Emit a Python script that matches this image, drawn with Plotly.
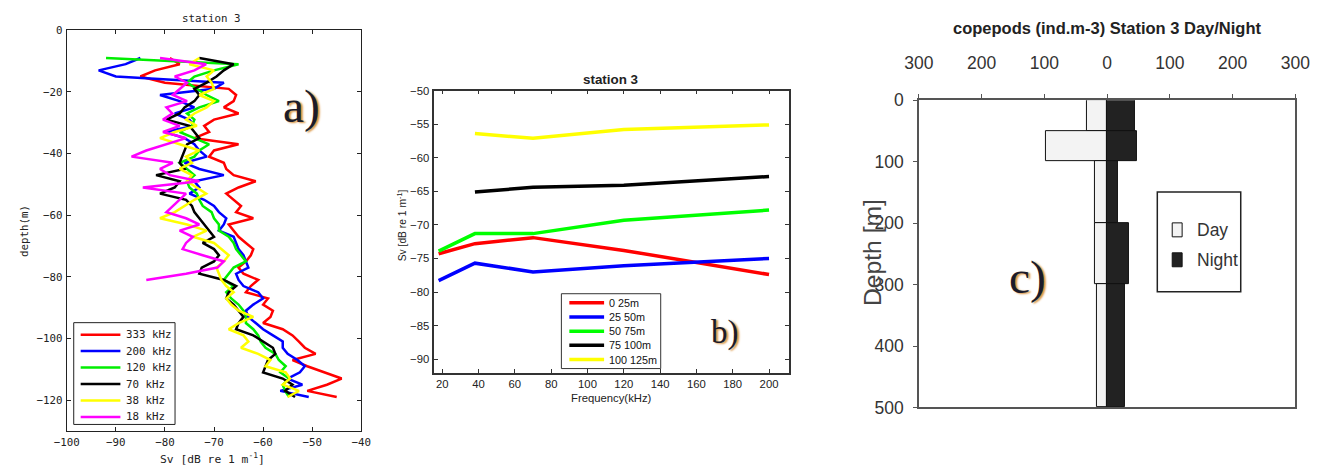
import plotly.graph_objects as go

# ---------------- a) Sv depth profiles, station 3 ----------------
depth = [-9, -11, -13, -15, -17, -19, -21, -23, -25, -27, -29, -31, -33, -35,
         -37, -39, -41, -43, -45, -47, -49, -51, -53, -55, -57, -59, -61, -63,
         -65, -67, -69, -71, -73, -75, -77, -79, -81, -83, -85, -87, -89, -91,
         -93, -95, -97, -99, -101, -103, -105, -107, -109, -111, -113, -115,
         -117, -119]

sv_333 = [-79, -77, -82, -85, -80, -67, -65.5, -66, -68, -65, -70, -72, -71, -74,
          -65, -70, -71, -68, -67.5, -66, -61.5, -65, -67.5, -66, -64.5, -65.5,
          -62, -67, -66, -65, -63.5, -62, -62.5, -63.5, -65, -64, -61, -62.5,
          -63.5, -59, -60, -58, -58.5, -60, -56, -54, -52.7, -51.5, -49.3, -54,
          -51, -47.3, -44, -47, -51, -45]
sv_200 = [-85, -88, -93.5, -90, -68, -70, -81, -77, -74, -78, -75, -74, -80, -76,
          -74, -73, -71.5, -76, -73, -68, -74, -73, -75, -72, -70, -69, -67.5,
          -68, -69, -66, -65.5, -65, -64, -63.5, -63, -65.5, -65, -64, -61, -60,
          -62, -63.5, -63, -61.5, -60, -58, -56, -56, -55, -53, -51.5, -52.5,
          -55, -52, -56.5, -50.7]
sv_120 = [-92, -65, -70, -74, -75.5, -73.5, -71.5, -69, -73, -75.5, -74, -74.5,
          -77, -74, -71, -73, -74, -77, -75.5, -74, -75.5, -75, -73.5, -73,
          -72.3, -70.5, -70, -69, -69, -67, -66, -65.5, -64.5, -63.5, -66, -67,
          -68, -66, -67.5, -66.5, -65, -64, -63.5, -63.5, -62, -61, -60.5,
          -59.5, -57.5, -56.8, -55.4, -56.5, -54.7, -56, -55.5, -54.7]
sv_70 = [-73, -66, -68, -69.5, -71.5, -74, -73, -74, -76, -77, -79.7, -75, -74,
         -73, -75.5, -76, -76.5, -77, -76, -81.8, -77, -78, -81, -75.7, -74.5,
         -74, -73, -72, -71, -70, -72.3, -70, -69, -70, -72.5, -73, -68, -65.5,
         -67, -67.5, -66, -65, -64, -65, -65.5, -62, -60, -58, -57.5, -59,
         -59.5, -60, -56, -54, -55.5, -53.5]
sv_38 = [-73, -75, -70, -71.5, -70.5, -70, -73, -70, -71.5, -74, -75.7, -73.5,
         -78, -81, -77, -73, -75.7, -74.5, -77, -74.5, -75.5, -73.5, -71.6, -74,
         -76, -78, -81, -75.5, -71.5, -74.3, -70, -68.5, -67, -68, -69.5, -69,
         -68.5, -67.5, -66, -67.5, -66.5, -65, -62, -65, -67, -64, -63, -64.5,
         -61, -58.5, -59.5, -55.4, -54.5, -56, -52.7, -55]
depth_18 = depth[:37]
sv_18 = [-81, -71.6, -74, -78, -75.5, -77, -78.4, -75.5, -79.7, -78.5, -80.4,
         -77, -80.4, -75.7, -79.7, -83.8, -86.8, -78.4, -81, -79, -73, -84.5,
         -75.7, -77, -78.4, -79.7, -75.7, -73, -77, -74.3, -75.7, -76.4, -72.3,
         -68, -69.3, -75.7, -83.8]

profile_names = ["333 kHz", "200 kHz", "120 kHz", "70 kHz", "38 kHz", "18 kHz"]
profile_colors = ["#ff0000", "#0000ff", "#00ee00", "#000000", "#ffff00", "#ff00ff"]

# ---------------- b) mean Sv per layer vs frequency ----------------
freq = [18, 38, 70, 120, 200]
layer_names = ["0 25m", "25 50m", "50 75m", "75 100m", "100 125m"]
layer_sv = [
    [-74.3, -72.8, -71.9, -73.8, -77.4],
    [-78.3, -75.7, -77.0, -76.1, -75.0],
    [-73.9, -71.3, -71.3, -69.3, -67.8],
    [None, -65.1, -64.4, -64.1, -62.8],
    [None, -56.4, -57.1, -55.8, -55.1],
]
layer_colors = ["#ff0000", "#0000ff", "#00ff00", "#000000", "#ffff00"]

# ---------------- c) copepod abundance day/night ----------------
layer_mid = [25, 75, 150, 250, 400]
layer_thick = [50, 50, 100, 100, 200]
day_abund = [33, 98, 20, 19, 16]
night_abund = [43.5, 47.5, 17, 34.5, 29]
period_names = ["Day", "Night"]
period_colors = ["#f3f3f3", "#222222"]

MONO = "DejaVu Sans Mono"
SANS = "Liberation Sans"
SERIF = "Liberation Serif"

# Layout positions below are written in window pixels; they are converted
# to paper fractions of the figure, which sits inside the 8px body margin.
OFF = 8
SX, SY = 0.984, 0.96
W, H = 1322, 476
FS = 1.03  # font scale matching the window-to-page ratio


def fx(p):
    return (p / SX - OFF) / W


def fy(p):
    return 1 - (p / SY - OFF) / H


def fnt(family, size, color="#222"):
    return dict(family=family, size=round(size * FS, 1), color=color)


fig = go.Figure()

profiles = [sv_333, sv_200, sv_120, sv_70, sv_38, sv_18]
for name, col, vals in zip(profile_names, profile_colors, profiles):
    d = depth_18 if name == "18 kHz" else depth
    fig.add_trace(go.Scatter(x=vals, y=d, mode="lines", name=name,
                             line=dict(color=col, width=2.5),
                             xaxis="x", yaxis="y"))

for name, col, vals in zip(layer_names, layer_colors, layer_sv):
    fig.add_trace(go.Scatter(x=freq, y=vals, mode="lines", name=name,
                             line=dict(color=col, width=3.5),
                             xaxis="x2", yaxis="y2"))

for name, col, vals, sign in zip(period_names, period_colors,
                                 [day_abund, night_abund], [-1, 1]):
    fig.add_trace(go.Bar(y=layer_mid, x=[sign * v for v in vals], width=layer_thick,
                         base=0, orientation="h", name=name,
                         marker=dict(color=col, line=dict(color="#111", width=1)),
                         xaxis="x3", yaxis="y3"))

axis_a = dict(showline=True, linecolor="#222", linewidth=1, mirror="ticks",
              ticks="inside", ticklen=4, tickcolor="#222", showgrid=False,
              zeroline=False, tickfont=fnt(MONO, 10.5))
axis_b = dict(showline=True, linecolor="#333", linewidth=1.5, mirror="ticks",
              ticks="inside", ticklen=4, tickcolor="#333", showgrid=False,
              zeroline=False, tickfont=fnt(SANS, 11))
axis_c = dict(showline=True, linecolor="#555", linewidth=1.5, mirror=True,
              ticks="outside", ticklen=4, tickcolor="#555", showgrid=False,
              zeroline=False, tickfont=fnt(SANS, 17, "#333"))

fig.update_layout(
    width=W, height=H, margin=dict(l=0, r=0, t=0, b=0),
    paper_bgcolor="white", plot_bgcolor="white",
    barmode="overlay", bargap=0, showlegend=False,
    xaxis=dict(axis_a, domain=[fx(60), fx(356.5)], range=[-100, -40],
               tickvals=[-100, -90, -80, -70, -60, -50, -40], anchor="y",
               ticklabelstandoff=1),
    yaxis=dict(axis_a, domain=[fy(429.5), fy(28)], range=[-130, 0],
               tickvals=[-120, -100, -80, -60, -40, -20, 0], anchor="x",
               ticklabelstandoff=1),
    xaxis2=dict(axis_b, domain=[fx(430), fx(787)], range=[15.6, 210.9],
                tickvals=list(range(20, 201, 20)), anchor="y2",
                ticklabelstandoff=0),
    yaxis2=dict(axis_b, domain=[fy(371), fy(88.5)], range=[-92, -50],
                tickvals=list(range(-90, -49, 5)), anchor="x2",
                ticklabelstandoff=1),
    xaxis3=dict(axis_c, domain=[fx(918), fx(1297)], range=[-300, 300], side="top",
                tickvals=[-300, -200, -100, 0, 100, 200, 300],
                ticktext=["300", "200", "100", "0", "100", "200", "300"],
                ticklabelstandoff=18, anchor="y3"),
    yaxis3=dict(axis_c, domain=[fy(406), fy(98)], range=[500, 0],
                tickvals=[0, 100, 200, 300, 400, 500],
                ticklabelstandoff=6, anchor="x3"),
)

shapes = []
ann = []


def text(t, x, y, font, **kw):
    d = dict(text=t, x=fx(x), y=fy(y), xref="paper", yref="paper",
             showarrow=False, xanchor="center", yanchor="middle", font=font)
    d.update(kw)
    ann.append(d)


def frame(x0, y0, x1, y1, color="#222", width=1):
    shapes.append(dict(type="rect", xref="paper", yref="paper",
                       x0=fx(x0), x1=fx(x1), y0=fy(y1), y1=fy(y0),
                       line=dict(color=color, width=width),
                       fillcolor="white", layer="above"))


# legend of panel a
frame(67, 321, 169, 423)
for i, (name, col) in enumerate(zip(profile_names, profile_colors)):
    yy = 333 + i * 16.5
    shapes.append(dict(type="line", xref="paper", yref="paper",
                       x0=fx(74), x1=fx(114), y0=fy(yy), y1=fy(yy),
                       line=dict(color=col, width=2.5), layer="above"))
    text(name, 118, yy, fnt(MONO, 10.5), xanchor="left")

# legend of panel b
frame(558, 292, 658, 367, color="#333")
for i, (name, col) in enumerate(zip(layer_names, layer_colors)):
    yy = 301 + i * 14.25
    shapes.append(dict(type="line", xref="paper", yref="paper",
                       x0=fx(566), x1=fx(601), y0=fy(yy), y1=fy(yy),
                       line=dict(color=col, width=3.5), layer="above"))
    text(name, 604, yy, fnt(SANS, 10.5, "#111"), xanchor="left")

# legend of panel c
frame(1158, 190, 1242, 290, width=1.5)
for i, (name, col) in enumerate(zip(period_names, period_colors)):
    yy = 228 + i * 30
    shapes.append(dict(type="rect", xref="paper", yref="paper",
                       x0=fx(1173), x1=fx(1183), y0=fy(yy + 7), y1=fy(yy - 7),
                       fillcolor=col, line=dict(color="#111", width=1),
                       layer="above"))
    text(name, 1196, yy, fnt(SANS, 17, "#333"), xanchor="left")

# panel a texts
text("station 3", 206, 16, fnt(MONO, 10.5))
text("Sv [dB re 1 m<sup>-1</sup>]", 207, 457, fnt(MONO, 11))
text("depth(m)", 18, 229, fnt(MONO, 10.5), textangle=-90)
# panel b texts
text("<b>station 3</b>", 607, 77, fnt(SANS, 13))
text("Frequency(kHz)", 608, 396, fnt(SANS, 11))
text("Sv [dB re 1 m<sup>-1</sup>]", 397, 223, fnt(SANS, 10), textangle=-90)
# panel c texts
text("<b>copepods (ind.m-3) Station 3 Day/Night</b>", 1108, 26, fnt(SANS, 16))
text("Depth [m]", 872, 251, fnt(SANS, 24, "#444"), textangle=-90)
# panel letters
letter_shadow = "2px 1px 2px #d9903a"
text("a)", 296, 104, dict(fnt(SERIF, 46, "#1b1b2a"), shadow=letter_shadow))
text("b)", 723, 331, dict(fnt(SERIF, 32, "#1b1b2a"), shadow=letter_shadow))
text("c)", 1027, 275, dict(fnt(SERIF, 46, "#1b1b2a"), shadow=letter_shadow))

fig.update_layout(shapes=shapes, annotations=ann)

fig.write_html("out.html")
